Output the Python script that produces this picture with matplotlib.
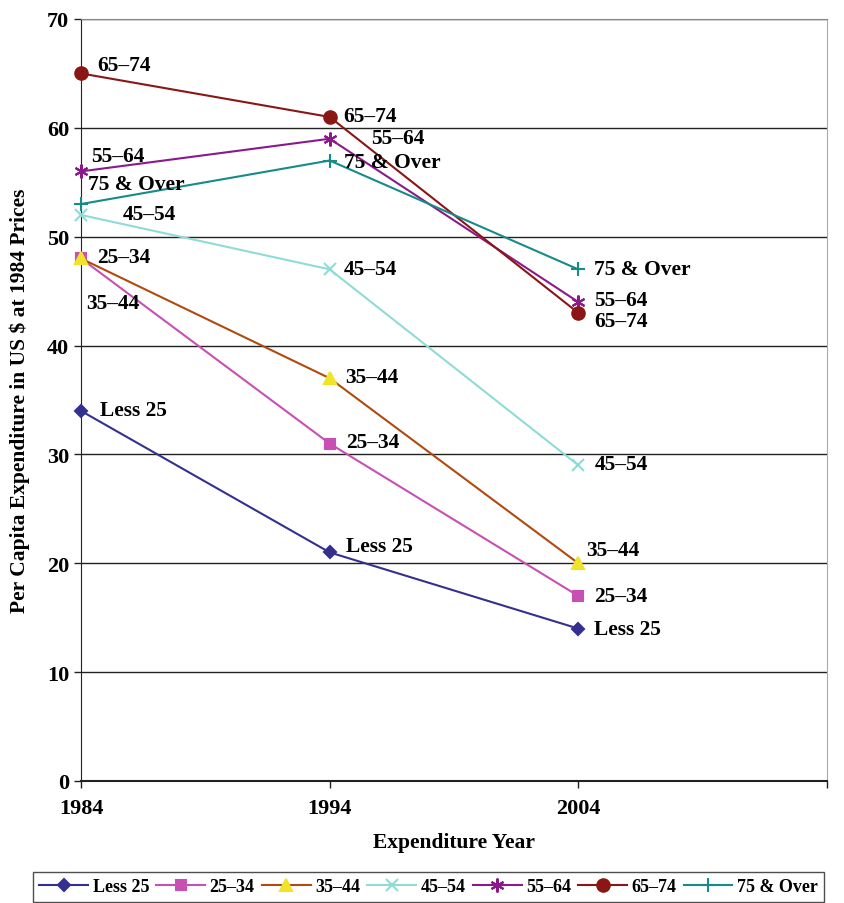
import matplotlib.pyplot as plt

plt.rcParams['font.family'] = ['Liberation Serif', 'DejaVu Serif']
plt.rcParams['font.weight'] = 'bold'

years = [1984, 1994, 2004]
groups = ['Less 25', '25–34', '35–44', '45–54', '55–64', '65–74', '75 & Over']
less_25 = [34, 21, 14]
age_25_34 = [48, 31, 17]
age_35_44 = [48, 37, 20]
age_45_54 = [52, 47, 29]
age_55_64 = [56, 59, 44]
age_65_74 = [65, 61, 43]
age_75_over = [53, 57, 47]
series = [less_25, age_25_34, age_35_44, age_45_54, age_55_64, age_65_74, age_75_over]

# line colour, marker, marker face colour, marker size
styles = [
    ('#33308f', 'D', '#33308f', 6.5),
    ('#c84fb4', 's', '#c84fb4', 7.5),
    ('#b04a10', '^', '#f0e428', 9),
    ('#8fdcd6', 'x', '#8fdcd6', 9),
    ('#8a1a8a', (6, 2, 0), '#8a1a8a', 10),
    ('#8a1616', 'o', '#8a1616', 9),
    ('#178a8a', '+', '#178a8a', 10),
]

# label offsets in pixels for each point of each series
offsets = [
    [(19, 1), (16, 6), (16, 0)],
    [(16, 1), (16, 2), (16, 0)],
    [(5, -45), (16, 1), (8, 13)],
    [(42, 1), (14, 0), (16, 1)],
    [(10, 15), (41, 1), (16, 2)],
    [(16, 8), (14, 1), (16, -8)],
    [(7, 20), (14, -1), (16, 0)],
]

fig = plt.figure(figsize=(8.45, 9.04), dpi=100)
ax = fig.add_axes([81 / 845, 1 - 782 / 904, (827 - 81) / 845, (782 - 20) / 904])

for name, vals, (col, mk, fc, ms), offs in zip(groups, series, styles, offsets):
    ax.plot(years, vals, color=col, lw=1.5, marker=mk, markersize=ms,
            markerfacecolor=fc, markeredgecolor=fc, markeredgewidth=1.5,
            label=name, clip_on=False, zorder=3)
    for x, y, (dx, dy) in zip(years, vals, offs):
        ax.annotate(name, (x, y), xytext=(dx, dy), textcoords='offset pixels',
                    ha='left', va='center', fontsize=15.5, fontweight='bold',
                    color='black', zorder=4)

ax.set_xlim(1984, 2014)
ax.set_ylim(0, 70)
ax.set_xticks([1984, 1994, 2004, 2014])
ax.set_xticklabels(['1984', '1994', '2004', ''])
ax.set_yticks(range(0, 71, 10))
ax.tick_params(axis='both', labelsize=16, length=5, width=1, color='#222222')
ax.tick_params(axis='x', pad=7)
for lbl in ax.get_xticklabels() + ax.get_yticklabels():
    lbl.set_fontweight('bold')

ax.yaxis.grid(True, color='#222222', lw=1)
ax.set_axisbelow(True)
ax.spines['top'].set_color('#888888')
ax.spines['right'].set_color('#aaaaaa')
ax.spines['left'].set_color('#222222')
ax.spines['bottom'].set_color('#222222')
ax.spines['bottom'].set_linewidth(1.5)

ax.set_xlabel('Expenditure Year', fontsize=15.5, fontweight='bold', labelpad=10)
ax.set_ylabel('Per Capita Expenditure in US $ at 1984 Prices', fontsize=15.5,
              fontweight='bold', labelpad=12)

leg = fig.legend(loc='upper left', bbox_to_anchor=(33 / 845, 1 - 873 / 904),
                 ncol=7, fontsize=13, frameon=True, fancybox=False,
                 handlelength=2.7, handletextpad=0.25, columnspacing=0.4,
                 borderpad=0.35, borderaxespad=0)
leg.get_frame().set_edgecolor('#222222')
leg.get_frame().set_linewidth(1)

fig.savefig('out.png', dpi=100)
